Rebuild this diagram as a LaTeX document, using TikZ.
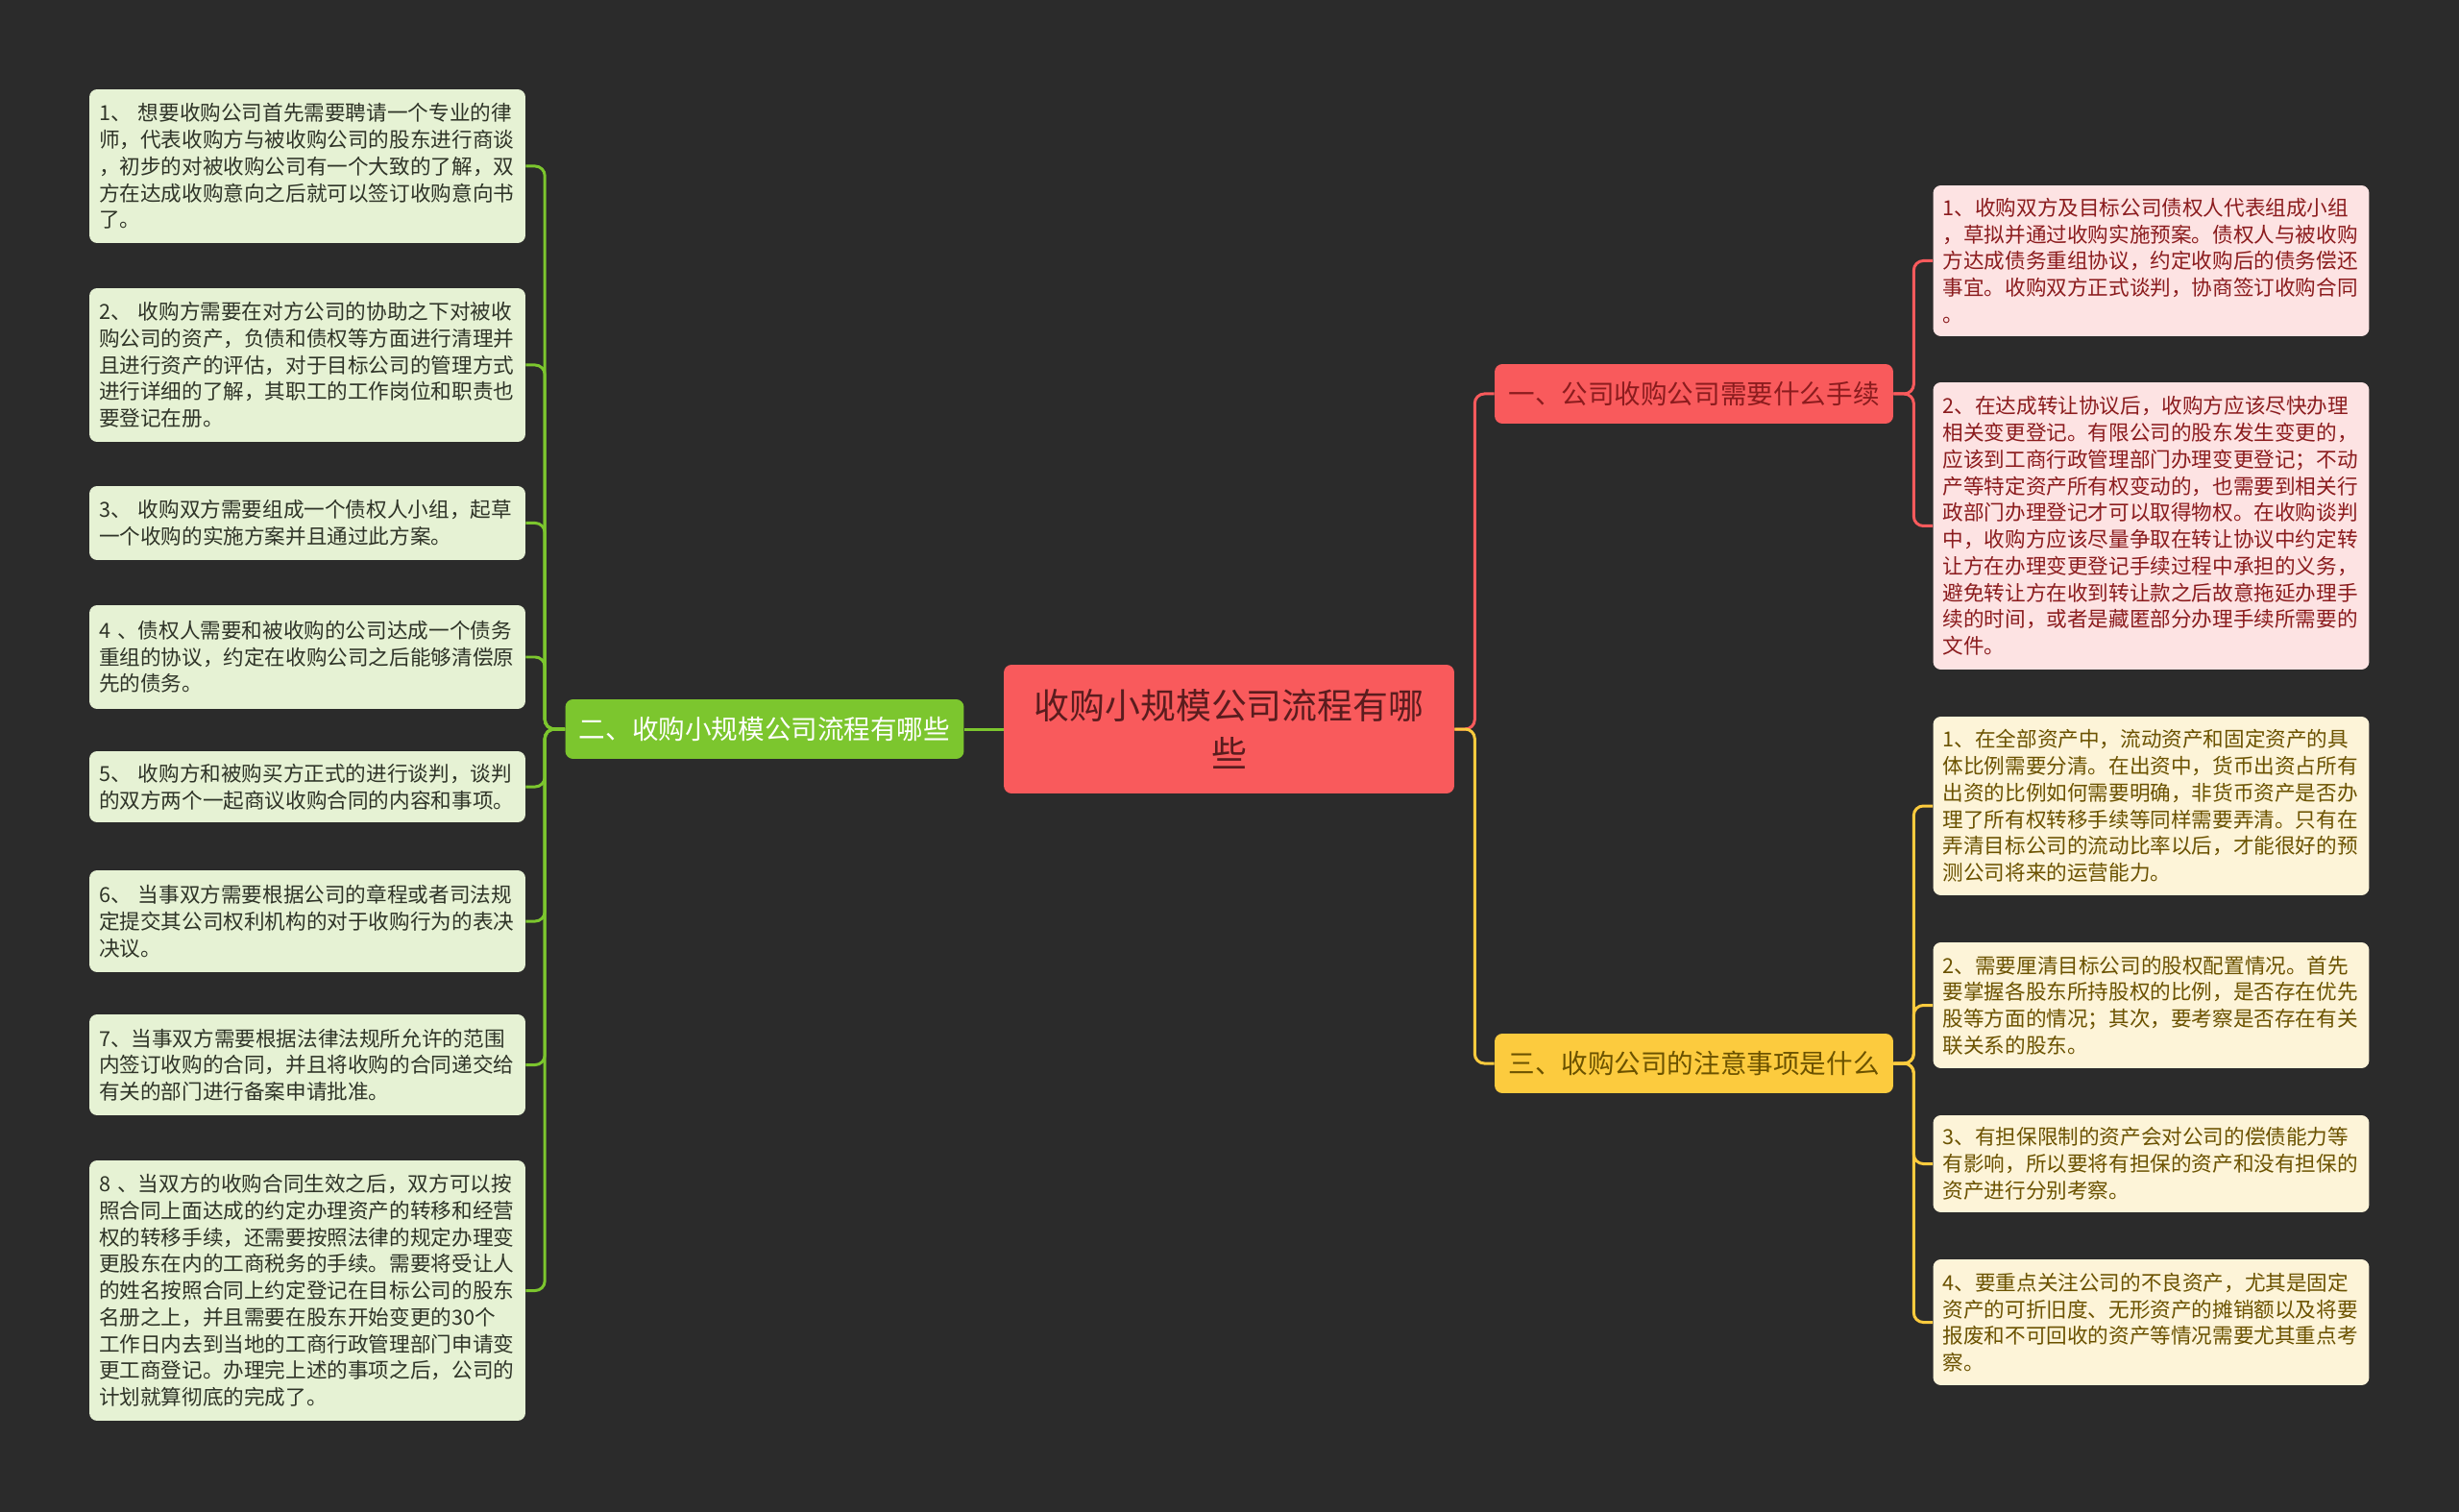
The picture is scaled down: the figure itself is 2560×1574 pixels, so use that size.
\documentclass[tikz,border=0pt]{standalone}
\usepackage{fontspec}
\setmainfont{Noto Sans CJK SC}
\usetikzlibrary{calc}
\definecolor{bgcol}{HTML}{2B2B2B}
\definecolor{rootred}{HTML}{F95A5C}
\definecolor{roottext}{HTML}{5A1C1E}
\definecolor{topicgreen}{HTML}{7CC62E}
\definecolor{topicyellow}{HTML}{FCCB3E}
\definecolor{pgreen}{HTML}{E6F2D4}
\definecolor{ppink}{HTML}{FDE3E3}
\definecolor{pcream}{HTML}{FDF4D8}
\definecolor{tgreen}{HTML}{2F3428}
\definecolor{tpink}{HTML}{8B1C1E}
\definecolor{tcream}{HTML}{6B5200}
\begin{document}
\begin{tikzpicture}[x=0.02cm,y=-0.02cm,
	box/.style={rounded corners=0.16cm, inner sep=0.2cm, align=left},
	rootbox/.style={box, fill=rootred, text=roottext, align=center, minimum width=9.38cm, minimum height=2.68cm,
		font=\fontsize{21pt}{28.5pt}\selectfont},
	topic/.style={box, align=center, minimum width=8.3cm, minimum height=1.24cm, font=\fontsize{15.7pt}{18pt}\selectfont},
	leaf/.style={box, text width=8.68cm, font=\fontsize{12.3pt}{15.8pt}\selectfont},
	leafgreen/.style={leaf, fill=pgreen, text=tgreen},
	leafpink/.style={leaf, fill=ppink, text=tpink},
	leafcream/.style={leaf, fill=pcream, text=tcream},
	link/.style={line width=0.06cm, rounded corners=0.2cm}
	]
	\fill[bgcol] (0,0) rectangle (2560,1574);
	\useasboundingbox (0,0) rectangle (2560,1574);

	\node[rootbox] (root) at (1279.5,759) {收购小规模公司流程有哪\\些};
	\node[topic, fill=rootred, text=tpink] (t1) at (1763.5,410) {一、公司收购公司需要什么手续};
	\node[topic, fill=topicgreen, text=white] (t2) at (796,759) {二、收购小规模公司流程有哪些};
	\node[topic, fill=topicyellow, text=tcream] (t3) at (1763.5,1107) {三、收购公司的注意事项是什么};

	\node[leafgreen, minimum height=3.2cm] (l1) at (320,173) {1、 想要收购公司首先需要聘请一个专业的律\\师，代表收购方与被收购公司的股东进行商谈\\，初步的对被收购公司有一个大致的了解，双\\方在达成收购意向之后就可以签订收购意向书\\了。};
	\node[leafgreen, minimum height=3.2cm] (l2) at (320,380) {2、 收购方需要在对方公司的协助之下对被收\\购公司的资产，负债和债权等方面进行清理并\\且进行资产的评估，对于目标公司的管理方式\\进行详细的了解，其职工的工作岗位和职责也\\要登记在册。};
	\node[leafgreen, minimum height=1.54cm] (l3) at (320,544.5) {3、 收购双方需要组成一个债权人小组，起草\\一个收购的实施方案并且通过此方案。};
	\node[leafgreen, minimum height=2.16cm] (l4) at (320,684) {4 、债权人需要和被收购的公司达成一个债务\\重组的协议，约定在收购公司之后能够清偿原\\先的债务。};
	\node[leafgreen, minimum height=1.48cm] (l5) at (320,819) {5、 收购方和被购买方正式的进行谈判，谈判\\的双方两个一起商议收购合同的内容和事项。};
	\node[leafgreen, minimum height=2.12cm] (l6) at (320,959) {6、 当事双方需要根据公司的章程或者司法规\\定提交其公司权利机构的对于收购行为的表决\\决议。};
	\node[leafgreen, minimum height=2.1cm] (l7) at (320,1108.5) {7、当事双方需要根据法律法规所允许的范围\\内签订收购的合同，并且将收购的合同递交给\\有关的部门进行备案申请批准。};
	\node[leafgreen, minimum height=5.42cm] (l8) at (320,1343.5) {8 、当双方的收购合同生效之后，双方可以按\\照合同上面达成的约定办理资产的转移和经营\\权的转移手续，还需要按照法律的规定办理变\\更股东在内的工商税务的手续。需要将受让人\\的姓名按照合同上约定登记在目标公司的股东\\名册之上，并且需要在股东开始变更的30个\\工作日内去到当地的工商行政管理部门申请变\\更工商登记。办理完上述的事项之后，公司的\\计划就算彻底的完成了。};

	\node[leafpink, minimum height=3.14cm] (r1) at (2239.5,271.5) {1、收购双方及目标公司债权人代表组成小组\\，草拟并通过收购实施预案。债权人与被收购\\方达成债务重组协议，约定收购后的债务偿还\\事宜。收购双方正式谈判，协商签订收购合同\\。};
	\node[leafpink, minimum height=5.98cm] (r2) at (2239.5,547.5) {2、在达成转让协议后，收购方应该尽快办理\\相关变更登记。有限公司的股东发生变更的，\\应该到工商行政管理部门办理变更登记；不动\\产等特定资产所有权变动的，也需要到相关行\\政部门办理登记才可以取得物权。在收购谈判\\中，收购方应该尽量争取在转让协议中约定转\\让方在办理变更登记手续过程中承担的义务，\\避免转让方在收到转让款之后故意拖延办理手\\续的时间，或者是藏匿部分办理手续所需要的\\文件。};
	\node[leafcream, minimum height=3.72cm] (r3) at (2239.5,839) {1、在全部资产中，流动资产和固定资产的具\\体比例需要分清。在出资中，货币出资占所有\\出资的比例如何需要明确，非货币资产是否办\\理了所有权转移手续等同样需要弄清。只有在\\弄清目标公司的流动比率以后，才能很好的预\\测公司将来的运营能力。};
	\node[leafcream, minimum height=2.62cm] (r4) at (2239.5,1046.5) {2、需要厘清目标公司的股权配置情况。首先\\要掌握各股东所持股权的比例，是否存在优先\\股等方面的情况；其次，要考察是否存在有关\\联关系的股东。};
	\node[leafcream, minimum height=2.02cm] (r5) at (2239.5,1211.5) {3、有担保限制的资产会对公司的偿债能力等\\有影响，所以要将有担保的资产和没有担保的\\资产进行分别考察。};
	\node[leafcream, minimum height=2.62cm] (r6) at (2239.5,1376.5) {4、要重点关注公司的不良资产，尤其是固定\\资产的可折旧度、无形资产的摊销额以及将要\\报废和不可回收的资产等情况需要尤其重点考\\察。};

	\draw[link, rootred] (root.east) -- ++(21,0) |- (t1.west);
	\draw[link, topicyellow] (root.east) -- ++(21,0) |- (t3.west);
	\draw[link, topicgreen] (root.west) -- (t2.east);
	\foreach \n in {1,...,8}
		\draw[link, topicgreen] (t2.west) -- ++(-21,0) |- (l\n.east);
	\foreach \n in {1,2}
		\draw[link, rootred] (t1.east) -- ++(21,0) |- (r\n.west);
	\foreach \n in {3,...,6}
		\draw[link, topicyellow] (t3.east) -- ++(21,0) |- (r\n.west);
\end{tikzpicture}
\end{document}
